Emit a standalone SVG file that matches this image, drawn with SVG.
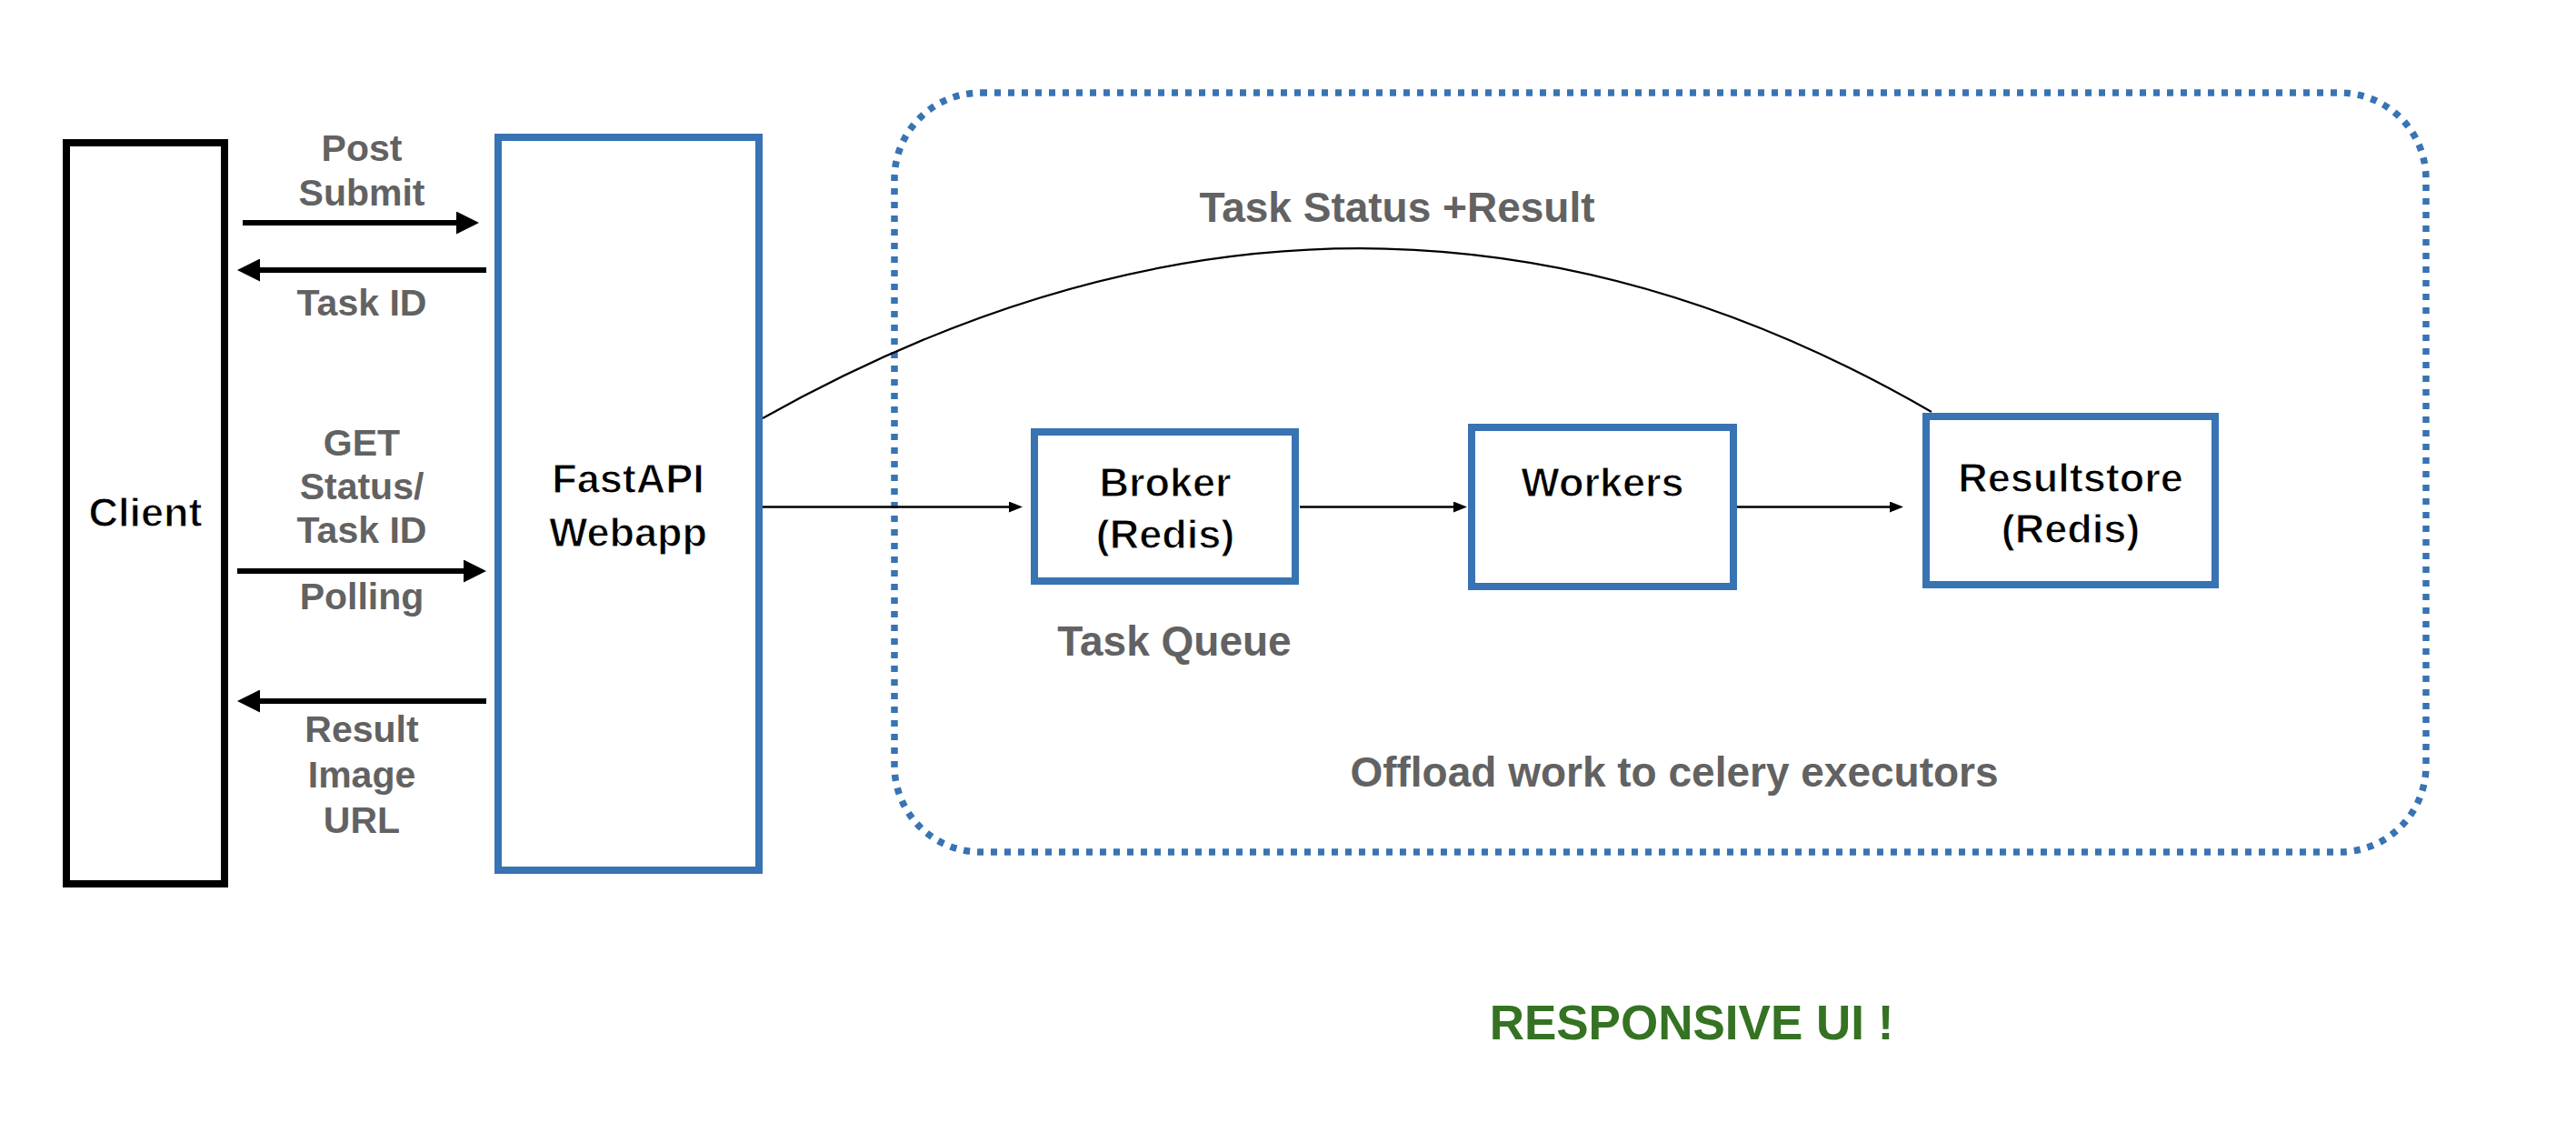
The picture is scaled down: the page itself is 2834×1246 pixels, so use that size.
<svg xmlns="http://www.w3.org/2000/svg" width="2834" height="1246" viewBox="0 0 2834 1246">
  <style>
    .box { fill: #ffffff; stroke: #3873b3; stroke-width: 8; }
    .client { fill: #ffffff; stroke: #000000; stroke-width: 8; }
    .name { font-family: "Liberation Sans", Arial, sans-serif; font-weight: bold; font-size: 45px; fill: #000000; stroke: #ffffff; stroke-width: 1.1px; text-anchor: middle; }
    .lbl { font-family: "Liberation Sans", Arial, sans-serif; font-weight: bold; font-size: 41px; fill: #626262; text-anchor: middle; }
    .lbl2 { font-family: "Liberation Sans", Arial, sans-serif; font-weight: bold; font-size: 46px; fill: #626262; text-anchor: middle; }
    .green { font-family: "Liberation Sans", Arial, sans-serif; font-weight: bold; font-size: 53px; fill: #357223; text-anchor: middle; }
    .thick { stroke: #000000; stroke-width: 6; fill: none; }
    .thin { stroke: #000000; stroke-width: 2.5; fill: none; }
    .curve { stroke: #000000; stroke-width: 2.2; fill: none; }
    .dotted { fill: none; stroke: #3873b3; stroke-width: 7.5; stroke-dasharray: 7 8; }
  </style>
  <defs>
    <marker id="bigHead" markerUnits="userSpaceOnUse" markerWidth="25" markerHeight="25" refX="5" refY="12.5" orient="auto">
      <path d="M0,0 L25,12.5 L0,25 z" fill="#000000"/>
    </marker>
    <marker id="smallHead" markerUnits="userSpaceOnUse" markerWidth="15" markerHeight="12" refX="5" refY="6" orient="auto">
      <path d="M0,0 L15,6 L0,12 z" fill="#000000"/>
    </marker>
  </defs>
  <rect width="2834" height="1246" fill="#ffffff"/>

  <g id="celery-container">
    <rect class="dotted" x="984" y="102" width="1685" height="835" rx="95" ry="95"/>
    <text class="lbl2" x="1842" y="865">Offload work to celery executors</text>
  </g>

  <g id="connectors">
    <line class="thick" x1="267" y1="245" x2="507" y2="245" marker-end="url(#bigHead)"/>
    <line class="thick" x1="535" y1="297" x2="281" y2="297" marker-end="url(#bigHead)"/>
    <line class="thick" x1="261" y1="628" x2="515" y2="628" marker-end="url(#bigHead)"/>
    <line class="thick" x1="535" y1="771" x2="281" y2="771" marker-end="url(#bigHead)"/>
    <line class="thin" x1="839" y1="557.5" x2="1115" y2="557.5" marker-end="url(#smallHead)"/>
    <line class="thin" x1="1430" y1="557.5" x2="1604" y2="557.5" marker-end="url(#smallHead)"/>
    <line class="thin" x1="1911" y1="557.5" x2="2084" y2="557.5" marker-end="url(#smallHead)"/>
    <path class="curve" d="M839,460 Q1498,90 2125,453"/>
    <text class="lbl" x="398" y="177">Post</text>
    <text class="lbl" x="398" y="226">Submit</text>
    <text class="lbl" x="398" y="347">Task ID</text>
    <text class="lbl" x="398" y="501">GET</text>
    <text class="lbl" x="398" y="549">Status/</text>
    <text class="lbl" x="398" y="597">Task ID</text>
    <text class="lbl" x="398" y="670">Polling</text>
    <text class="lbl" x="398" y="816">Result</text>
    <text class="lbl" x="398" y="866">Image</text>
    <text class="lbl" x="398" y="916">URL</text>
    <text class="lbl2" x="1537" y="244">Task Status +Result</text>
  </g>

  <g id="client">
    <rect class="client" x="73" y="157" width="174" height="815"/>
    <text class="name" x="160" y="579">Client</text>
  </g>

  <g id="fastapi">
    <rect class="box" x="548" y="151" width="287" height="806"/>
    <text class="name" x="691" y="542">FastAPI</text>
    <text class="name" x="691" y="601">Webapp</text>
  </g>

  <g id="broker">
    <rect class="box" x="1138" y="475" width="287" height="164"/>
    <text class="name" x="1282" y="546">Broker</text>
    <text class="name" x="1282" y="603">(Redis)</text>
    <text class="lbl2" x="1292" y="721">Task Queue</text>
  </g>

  <g id="workers">
    <rect class="box" x="1619" y="470" width="288" height="175"/>
    <text class="name" x="1763" y="546">Workers</text>
  </g>

  <g id="resultstore">
    <rect class="box" x="2119" y="458" width="318" height="185"/>
    <text class="name" x="2278" y="541">Resultstore</text>
    <text class="name" x="2278" y="597">(Redis)</text>
  </g>

  <g id="tagline">
    <text class="green" x="1861" y="1143">RESPONSIVE UI !</text>
  </g>
</svg>
